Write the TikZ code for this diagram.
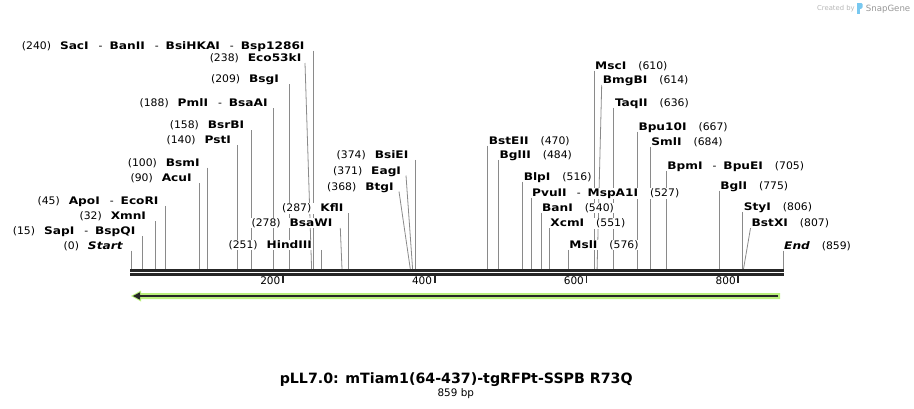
\documentclass[tikz,border=0pt]{standalone}
\usepackage{fontspec}
\setmainfont{DejaVu Sans}
\newfontfamily\numfont{DejaVu Sans}[FakeStretch=1.04]
\newfontfamily\enzfont{DejaVu Sans}[FakeStretch=1.17]
\usepackage{tikz}
\usetikzlibrary{positioning, backgrounds}

\definecolor{cutgray}{RGB}{138,138,138}
\definecolor{bbdark}{RGB}{38,38,38}
\definecolor{featgreen}{RGB}{186,240,124}
\definecolor{snapblue}{RGB}{120,200,240}
\definecolor{wmgray}{RGB}{150,150,150}

\newcommand{\enz}[1]{{\enzfont\bfseries #1}}
\newcommand{\ngap}{\hspace{9pt}}
\newcommand{\rgap}{\hspace{12pt}}
\newcommand{\orsep}{\hspace{10pt}-\hspace{7pt}}

\begin{document}
\begin{tikzpicture}[
    x=1pt, y=-1pt,
    lft/.style={anchor=base east, yshift=1.5pt, fill=white, inner xsep=0.5pt, inner ysep=0.5pt, font=\numfont\fontsize{10.4}{12}\selectfont},
    rgt/.style={anchor=base west, yshift=1.5pt, fill=white, inner xsep=0.5pt, inner ysep=0.5pt, font=\numfont\fontsize{10.4}{12}\selectfont},
    cut/.style={draw=cutgray, line width=0.8pt},
    backbone/.style={draw=bbdark, line width=2.6pt},
    tickmark/.style={draw=bbdark, line width=1.8pt},
    ticklab/.style={anchor=base east, inner sep=0pt, font=\fontsize{10.5}{12}\selectfont},
    title/.style={anchor=base, inner sep=0pt, font=\fontsize{14.2}{16}\selectfont\bfseries},
    sub/.style={anchor=base, inner sep=0pt, font=\fontsize{10.4}{12}\selectfont}
]
\useasboundingbox (0,0) rectangle (914,408);

% backbone
\coordinate (bb) at (0,269);
\draw[backbone] (130.3,270.3) -- (783.5,270.3);
\draw[backbone] (130.3,274.3) -- (783.5,274.3);

% left labels
\coordinate (sacI-t) at (313.2,50.5);
\node[lft, base left=8pt of sacI-t] (sacI) {(240)\ngap\enz{SacI}\orsep\enz{BanII}\orsep\enz{BsiHKAI}\orsep\enz{Bsp1286I}};
\coordinate (eco53kI-t) at (305,63);
\coordinate (eco53kI-s) at (311.6,269);
\node[lft, base left=3pt of eco53kI-t] (eco53kI) {(238)\ngap\enz{Eco53kI}};
\coordinate (bsgI-t) at (289.6,84);
\node[lft, base left=10pt of bsgI-t] (bsgI) {(209)\ngap\enz{BsgI}};
\coordinate (pmlI-t) at (273.7,108);
\node[lft, base left=5.4pt of pmlI-t] (pmlI) {(188)\ngap\enz{PmlI}\orsep\enz{BsaAI}};
\coordinate (bsrBI-t) at (250.9,130.2);
\node[lft, base left=6pt of bsrBI-t] (bsrBI) {(158)\ngap\enz{BsrBI}};
\coordinate (pstI-t) at (237.3,144.8);
\node[lft, base left=5.6pt of pstI-t] (pstI) {(140)\ngap\enz{PstI}};
\coordinate (bsmI-t) at (206.9,167.5);
\node[lft, base left=6.6pt of bsmI-t] (bsmI) {(100)\ngap\enz{BsmI}};
\coordinate (acuI-t) at (199.3,183.2);
\node[lft, base left=7pt of acuI-t] (acuI) {(90)\ngap\enz{AcuI}};
\coordinate (apoI-t) at (165.2,205.8);
\node[lft, base left=6pt of apoI-t] (apoI) {(45)\ngap\enz{ApoI}\orsep\enz{EcoRI}};
\coordinate (xmnI-t) at (155.3,221.3);
\node[lft, base left=8.6pt of xmnI-t] (xmnI) {(32)\ngap\enz{XmnI}};
\coordinate (sapI-t) at (142.4,236.2);
\node[lft, base left=6.4pt of sapI-t] (sapI) {(15)\ngap\enz{SapI}\orsep\enz{BspQI}};
\coordinate (start-t) at (131,250.5);
\node[lft, base left=7.7pt of start-t] (start) {(0)\ngap\enz{\itshape Start}};
\coordinate (hindIII-t) at (321.5,249.8);
\node[lft, base left=8.8pt of hindIII-t] (hindIII) {(251)\ngap\enz{HindIII}};
\coordinate (bsaWI-t) at (340.3,228);
\coordinate (bsaWI-s) at (342,269);
\node[lft, base left=7.3pt of bsaWI-t] (bsaWI) {(278)\ngap\enz{BsaWI}};
\coordinate (kflI-t) at (348.8,213.2);
\node[lft, base left=4.8pt of kflI-t] (kflI) {(287)\ngap\enz{KflI}};
\coordinate (bsiEI-t) at (414.9,159.8);
\node[lft, base left=5.9pt of bsiEI-t] (bsiEI) {(374)\ngap\enz{BsiEI}};
\coordinate (eagI-t) at (406,175.5);
\coordinate (eagI-s) at (412.6,269);
\node[lft, base left=4.3pt of eagI-t] (eagI) {(371)\ngap\enz{EagI}};
\coordinate (btgI-t) at (399,191.5);
\coordinate (btgI-s) at (410.3,269);
\node[lft, base left=4.7pt of btgI-t] (btgI) {(368)\ngap\enz{BtgI}};

% right labels
\coordinate (bstEII-t) at (487.7,145.5);
\node[rgt, base right=0.5pt of bstEII-t] (bstEII) {\enz{BstEII}\rgap(470)};
\coordinate (bglII-t) at (498.4,159.8);
\node[rgt, base right=0.5pt of bglII-t] (bglII) {\enz{BglII}\rgap(484)};
\coordinate (blpI-t) at (522.6,181.5);
\node[rgt, base right=0.5pt of blpI-t] (blpI) {\enz{BlpI}\rgap(516)};
\coordinate (pvuII-t) at (531,197.5);
\node[rgt, base right=0.5pt of pvuII-t] (pvuII) {\enz{PvuII}\orsep\enz{MspA1I}\rgap(527)};
\coordinate (banI-t) at (540.9,212.8);
\node[rgt, base right=0.5pt of banI-t] (banI) {\enz{BanI}\rgap(540)};
\coordinate (xcmI-t) at (549.2,228.2);
\node[rgt, base right=0.5pt of xcmI-t] (xcmI) {\enz{XcmI}\rgap(551)};
\coordinate (mslI-t) at (568.2,249.8);
\node[rgt, base right=0.5pt of mslI-t] (mslI) {\enz{MslI}\rgap(576)};
\coordinate (mscI-t) at (594,70.5);
\node[rgt, base right=0.5pt of mscI-t] (mscI) {\enz{MscI}\rgap(610)};
\coordinate (bmgBI-t) at (601.7,84.8);
\coordinate (bmgBI-s) at (597.1,269);
\node[rgt, base right=0.5pt of bmgBI-t] (bmgBI) {\enz{BmgBI}\rgap(614)};
\coordinate (taqII-t) at (613.8,107.5);
\node[rgt, base right=0.5pt of taqII-t] (taqII) {\enz{TaqII}\rgap(636)};
\coordinate (bpu10I-t) at (637.3,131.5);
\node[rgt, base right=0.5pt of bpu10I-t] (bpu10I) {\enz{Bpu10I}\rgap(667)};
\coordinate (smlI-t) at (650.2,146.5);
\node[rgt, base right=0.5pt of smlI-t] (smlI) {\enz{SmlI}\rgap(684)};
\coordinate (bpmI-t) at (666.2,170.8);
\node[rgt, base right=0.5pt of bpmI-t] (bpmI) {\enz{BpmI}\orsep\enz{BpuEI}\rgap(705)};
\coordinate (bglI-t) at (719.2,190.5);
\node[rgt, base right=0.5pt of bglI-t] (bglI) {\enz{BglI}\rgap(775)};
\coordinate (styI-t) at (742.7,211.8);
\node[rgt, base right=0.5pt of styI-t] (styI) {\enz{StyI}\rgap(806)};
\coordinate (bstXI-t) at (750.5,228.2);
\coordinate (bstXI-s) at (743.5,269);
\node[rgt, base right=0.5pt of bstXI-t] (bstXI) {\enz{BstXI}\rgap(807)};
\coordinate (end-t) at (783,250.5);
\node[rgt, base right=0.5pt of end-t] (end) {\enz{\itshape End}\rgap(859)};

% cut lines
\begin{scope}[on background layer]
\draw[cut] (sacI-t) -- (sacI-t |- bb);
\draw[cut] (eco53kI-t) -- (eco53kI-s);
\draw[cut] (bsgI-t) -- (bsgI-t |- bb);
\draw[cut] (pmlI-t) -- (pmlI-t |- bb);
\draw[cut] (bsrBI-t) -- (bsrBI-t |- bb);
\draw[cut] (pstI-t) -- (pstI-t |- bb);
\draw[cut] (bsmI-t) -- (bsmI-t |- bb);
\draw[cut] (acuI-t) -- (acuI-t |- bb);
\draw[cut] (apoI-t) -- (apoI-t |- bb);
\draw[cut] (xmnI-t) -- (xmnI-t |- bb);
\draw[cut] (sapI-t) -- (sapI-t |- bb);
\draw[cut] (start-t) -- (start-t |- bb);
\draw[cut] (hindIII-t) -- (hindIII-t |- bb);
\draw[cut] (bsaWI-t) -- (bsaWI-s);
\draw[cut] (kflI-t) -- (kflI-t |- bb);
\draw[cut] (bsiEI-t) -- (bsiEI-t |- bb);
\draw[cut] (eagI-t) -- (eagI-s);
\draw[cut] (btgI-t) -- (btgI-s);
\draw[cut] (bstEII-t) -- (bstEII-t |- bb);
\draw[cut] (bglII-t) -- (bglII-t |- bb);
\draw[cut] (blpI-t) -- (blpI-t |- bb);
\draw[cut] (pvuII-t) -- (pvuII-t |- bb);
\draw[cut] (banI-t) -- (banI-t |- bb);
\draw[cut] (xcmI-t) -- (xcmI-t |- bb);
\draw[cut] (mslI-t) -- (mslI-t |- bb);
\draw[cut] (mscI-t) -- (mscI-t |- bb);
\draw[cut] (bmgBI-t) -- (bmgBI-s);
\draw[cut] (taqII-t) -- (taqII-t |- bb);
\draw[cut] (bpu10I-t) -- (bpu10I-t |- bb);
\draw[cut] (smlI-t) -- (smlI-t |- bb);
\draw[cut] (bpmI-t) -- (bpmI-t |- bb);
\draw[cut] (bglI-t) -- (bglI-t |- bb);
\draw[cut] (styI-t) -- (styI-t |- bb);
\draw[cut] (bstXI-t) -- (bstXI-s);
\draw[cut] (end-t) -- (end-t |- bb);
\end{scope}

% ruler
\draw[tickmark] (282.8,275.5) -- (282.8,283);
\draw[tickmark] (434.6,275.5) -- (434.6,283);
\draw[tickmark] (586.4,275.5) -- (586.4,283);
\draw[tickmark] (738.2,275.5) -- (738.2,283);
\node[ticklab] (r200) at (280.5,284) {200};
\node[ticklab] (r400) at (432.3,284) {400};
\node[ticklab] (r600) at (584.1,284) {600};
\node[ticklab] (r800) at (735.9,284) {800};

% feature arrow
\coordinate (f-tip) at (131,296);
\coordinate (f-end) at (780,296);
\fill[featgreen] (f-tip) -- (141,290.5) -- (141,293) -- (780,293) -- (780,299) -- (141,299) -- (141,301.5) -- cycle;
\draw[bbdark, line width=2pt] (778,296) -- (139,296);
\fill[bbdark] (133,296) -- (140,292.3) -- (140,299.7) -- cycle;

% title
\node[title] (name) at (456.2,383.3) {pLL7.0: mTiam1(64-437)-tgRFPt-SSPB R73Q};
\node[sub] (len) at (455.8,396.5) {859 bp};

% watermark
\node[anchor=base west, inner sep=0pt, text=wmgray!70, font=\fontsize{6.8}{8}\selectfont] (made) at (817,10.5) {Created by};
\fill[snapblue] (857,3) rectangle (859.6,13.5);
\fill[snapblue, rounded corners=1.2pt] (857,3) -- (862.5,3) -- (862.5,8.5) -- (857,9.5) -- cycle;
\node[anchor=base west, inner sep=0pt, text=wmgray, font=\fontsize{8.6}{10}\selectfont] (snap) at (865.7,11.3) {SnapGene};

\end{tikzpicture}
\end{document}
